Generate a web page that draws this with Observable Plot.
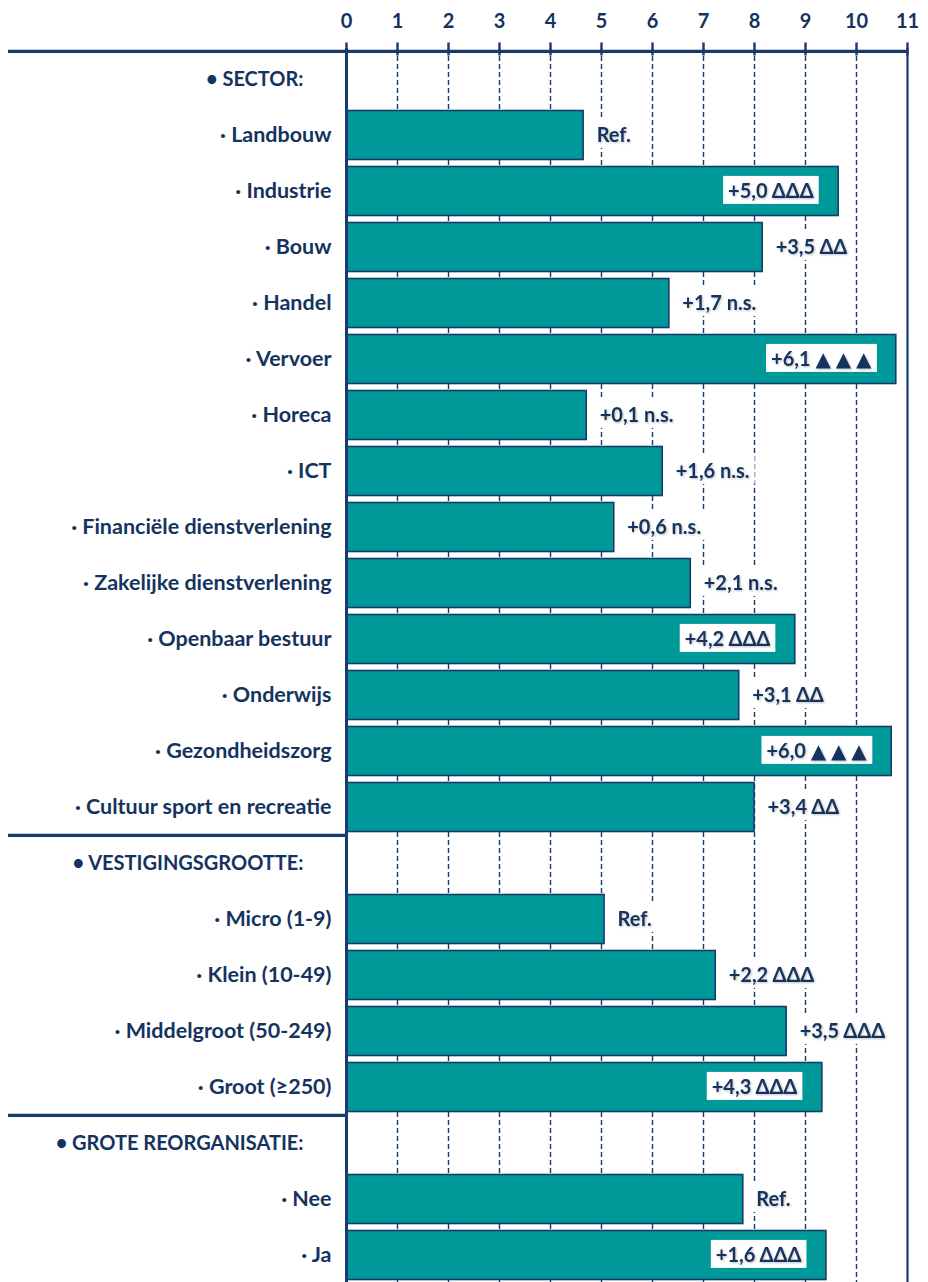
<!DOCTYPE html>
<html><head><meta charset="utf-8">
<script src="https://cdn.jsdelivr.net/npm/d3@7"></script>
<script src="https://cdn.jsdelivr.net/npm/@observablehq/plot@0.6"></script>
<style>
body{margin:0;background:#fff;overflow:hidden}
g[aria-description="annot"] text{filter:drop-shadow(1px 1px 1px rgba(0,0,0,0.25))}
</style>
</head><body><div id="chart"></div>
<script>
const rowLabels = [
  "• SECTOR:",
  "· Landbouw","· Industrie","· Bouw","· Handel","· Vervoer","· Horeca","· ICT",
  "· Financiële dienstverlening","· Zakelijke dienstverlening","· Openbaar bestuur",
  "· Onderwijs","· Gezondheidszorg","· Cultuur sport en recreatie",
  "• VESTIGINGSGROOTTE:",
  "· Micro (1-9)","· Klein (10-49)","· Middelgroot (50-249)","· Groot (≥250)",
  "• GROTE REORGANISATIE:",
  "· Nee","· Ja"
];
const rowTypes = [
  "header","item","item","item","item","item","item","item","item","item","item","item","item","item",
  "header","item","item","item","item",
  "header","item","item"
];
const values = [
  null, 4.65, 9.65, 8.16, 6.33, 10.78, 4.71, 6.2, 5.25, 6.75, 8.8, 7.7, 10.69, 8.0,
  null, 5.06, 7.24, 8.63, 9.33,
  null, 7.78, 9.41
];
const annotations = [
  null, "Ref.", "+5,0 ΔΔΔ", "+3,5 ΔΔ", "+1,7 n.s.", "+6,1 ▲ ▲ ▲", "+0,1 n.s.", "+1,6 n.s.",
  "+0,6 n.s.", "+2,1 n.s.", "+4,2 ΔΔΔ", "+3,1 ΔΔ", "+6,0 ▲ ▲ ▲", "+3,4 ΔΔ",
  null, "Ref.", "+2,2 ΔΔΔ", "+3,5 ΔΔΔ", "+4,3 ΔΔΔ",
  null, "Ref.", "+1,6 ΔΔΔ"
];
const xTicks = [0,1,2,3,4,5,6,7,8,9,10,11];
const gridTicks = [1,2,3,4,5,6,7,8,9,10];

const NAVY = "#173B6C";
const TEXT = "#15335F";
const TEAL = "#009999";
const W = 928, H = 1282;
const yRange = [48, 1286];
const step = (yRange[1] - yRange[0]) / rowLabels.length;
const insideThreshold = 8.7;

const rows = rowLabels.map((label, i) => ({label, type: rowTypes[i], value: values[i], note: annotations[i]}));
const bars = rows.filter(d => d.value != null);
const headers = rows.filter(d => d.type === "header");
const items = rows.filter(d => d.type === "item");
const outside = bars.filter(d => d.value < insideThreshold);
const inside = bars.filter(d => d.value >= insideThreshold);

const chart = Plot.plot({
  width: W, height: H,
  marginLeft: 346, marginRight: 21, marginTop: 48, marginBottom: 0,
  style: {font: "bold 20px Lato, 'DejaVu Sans', sans-serif", color: TEXT, background: "#fff"},
  x: {domain: [0, 11], axis: null},
  y: {domain: rowLabels, range: yRange, padding: 0, axis: null},
  marks: [
    Plot.ruleX(gridTicks, {stroke: NAVY, strokeWidth: 1.4, strokeDasharray: "5,3"}),
    Plot.barX(bars, {x: "value", y: "label", fill: TEAL, stroke: NAVY, strokeWidth: 1.6, insetTop: 3.5, insetBottom: 3.5}),
    Plot.ruleX([0], {stroke: NAVY, strokeWidth: 3}),
    Plot.ruleX([11], {stroke: NAVY, strokeWidth: 2.2}),
    // top axis line
    Plot.ruleY(headers.slice(0, 1), {y: "label", dy: -step / 2, stroke: NAVY, strokeWidth: 3.2, insetLeft: -338}),
    // section separators
    Plot.ruleY(headers.slice(1), {y: "label", dy: -step / 2, stroke: NAVY, strokeWidth: 3.2, insetLeft: -338, insetRight: 561}),
    Plot.axisX(xTicks, {anchor: "top", tickSize: 13, dy: 6.5, tickFormat: () => "", label: null, stroke: NAVY, strokeWidth: 2.4}),
    Plot.axisX(xTicks, {anchor: "top", tickSize: 0, tickPadding: 21, label: null, fill: TEXT, fontSize: 20}),
    Plot.text(headers, {y: "label", text: "label", frameAnchor: "left", textAnchor: "end", dx: -43, fill: TEXT, fontSize: 20}),
    Plot.text(items, {y: "label", text: "label", frameAnchor: "left", textAnchor: "end", dx: -15, fill: TEXT, fontSize: 21.5}),
    Plot.text(outside, {x: "value", y: "label", text: "note", textAnchor: "start", dx: 13, fill: TEXT, fontSize: 20, ariaDescription: "annot"}),
    Plot.text(inside, {x: "value", y: "label", text: "note", textAnchor: "end", dx: -25, fill: TEXT, fontSize: 20, ariaDescription: "annot"})
  ]
});
document.getElementById("chart").appendChild(chart);

// white boxes behind the value annotations
chart.querySelectorAll('g[aria-description="annot"]').forEach(g => {
  g.querySelectorAll("text").forEach(t => {
    const b = t.getBBox();
    const r = document.createElementNS("http://www.w3.org/2000/svg", "rect");
    const padX = 5, h = 28;
    r.setAttribute("x", b.x - padX);
    r.setAttribute("y", b.y + b.height / 2 - h / 2);
    r.setAttribute("width", b.width + 2 * padX);
    r.setAttribute("height", h);
    r.setAttribute("fill", "#fff");
    r.style.filter = "none";
    const tr = t.getAttribute("transform");
    if (tr) r.setAttribute("transform", tr);
    t.parentNode.insertBefore(r, t);
  });
});
</script>
</body></html>
